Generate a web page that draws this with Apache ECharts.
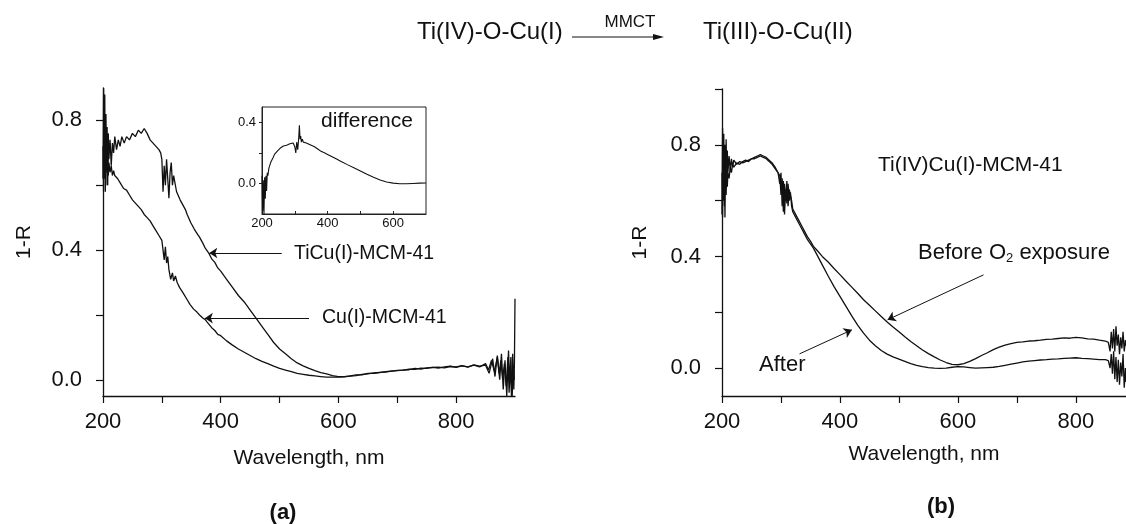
<!DOCTYPE html>
<html>
<head>
<meta charset="utf-8">
<script src="https://cdn.jsdelivr.net/npm/echarts@6/dist/echarts.min.js"></script>
<style>
  html, body { margin: 0; padding: 0; background: #fff; }
  #chart { width: 1126px; height: 524px; }
</style>
</head>
<body>
<div id="chart"></div>
<script>
// panel (a): TiCu(I)-MCM-41 and Cu(I)-MCM-41
const tiCuWl = [200,201,202,203,204,205,206,207,208,209,210,212,214,216,218,220,223,226,229,232,236,240,245,250,255,260,265,270,275,280,285,290,295,298,300,302,304,306,308,310,312,314,316,318,320,325,328,331,334,337,340,343,346,349,352,355,358,361,364,367,370,374,377,380,385,390,395,400,410,420,430,440,450,460,470,480,490,500,510,520,530,540,550,560,570,580,590,600,610,620,630,640,650,660,670,680,690,700,710,720,730,740,750,760,770,780,790,800,810,820,830,840,850,855,860,865,870,873,876,879,882,885,888,890,892,894,896,898,899,900]
const tiCuR = [0.62,0.90,0.70,0.88,0.58,0.82,0.66,0.78,0.60,0.76,0.68,0.74,0.66,0.73,0.70,0.75,0.71,0.74,0.72,0.75,0.73,0.75,0.74,0.76,0.75,0.77,0.76,0.775,0.76,0.74,0.73,0.72,0.71,0.70,0.68,0.58,0.66,0.60,0.68,0.62,0.56,0.64,0.67,0.60,0.63,0.58,0.585,0.555,0.56,0.535,0.525,0.51,0.505,0.485,0.475,0.465,0.46,0.448,0.44,0.43,0.42,0.405,0.40,0.39,0.372,0.362,0.345,0.335,0.31,0.285,0.26,0.24,0.215,0.19,0.165,0.14,0.115,0.095,0.08,0.065,0.052,0.043,0.035,0.028,0.022,0.018,0.013,0.01,0.01,0.012,0.015,0.015,0.02,0.02,0.022,0.025,0.027,0.028,0.03,0.031,0.035,0.033,0.037,0.038,0.036,0.04,0.042,0.038,0.043,0.04,0.045,0.04,0.05,0.03,0.06,0.025,0.07,0.02,0.06,0.0,0.05,-0.02,0.07,-0.04,0.04,-0.05,0.08,-0.03,0.05,0.25]

const cuWl = [200,201,202,203,204,205,206,207,208,209,210,212,214,216,218,220,225,230,235,240,245,250,255,260,265,270,275,280,285,290,295,300,302,304,306,308,310,312,315,318,320,323,326,330,333,336,339,342,345,348,351,354,357,360,364,367,370,374,377,380,385,390,395,400,410,420,430,440,450,460,470,480,490,500,510,520,530,540,550,560,570,580,590,600,610,620,630,640,650,660,670,680,690,700,710,720,730,740,750,760,770,780,790,800,810,820,830,840,850,856,862,866,870,874,877,880,883,886,889,891,893,895,897,899]
const cuR = [0.72,0.58,0.82,0.62,0.76,0.64,0.72,0.60,0.70,0.63,0.67,0.64,0.66,0.63,0.645,0.63,0.62,0.605,0.59,0.585,0.57,0.555,0.545,0.535,0.525,0.51,0.50,0.49,0.475,0.46,0.445,0.43,0.40,0.37,0.41,0.36,0.38,0.34,0.31,0.33,0.305,0.32,0.30,0.285,0.29,0.268,0.262,0.25,0.245,0.232,0.235,0.218,0.222,0.208,0.20,0.205,0.19,0.185,0.178,0.172,0.16,0.152,0.14,0.136,0.12,0.107,0.095,0.085,0.075,0.065,0.057,0.05,0.042,0.035,0.03,0.025,0.02,0.017,0.014,0.012,0.01,0.008,0.008,0.008,0.009,0.011,0.013,0.017,0.018,0.021,0.023,0.024,0.027,0.029,0.03,0.033,0.032,0.036,0.035,0.038,0.039,0.037,0.041,0.04,0.044,0.039,0.046,0.042,0.045,0.02,0.065,0.01,0.075,0.0,0.08,-0.03,0.06,-0.05,0.09,-0.01,0.07,-0.06,0.04,0.0]

// inset: difference spectrum
const diffWl = [200,202,204,206,208,210,212,214,216,218,221,224,227,230,234,238,242,246,250,255,260,265,270,275,280,285,290,295,300,303,306,309,312,314,316,318,320,323,326,330,335,340,345,350,360,370,380,390,400,420,440,460,480,500,520,540,560,580,600,620,640,660,680,700]
const diffR = [0.05,-0.18,0.02,-0.2,0.04,-0.1,0.05,-0.05,0.07,0.05,0.10,0.12,0.14,0.15,0.17,0.19,0.20,0.21,0.22,0.23,0.235,0.245,0.24,0.25,0.245,0.26,0.25,0.265,0.24,0.20,0.27,0.22,0.30,0.38,0.29,0.31,0.27,0.29,0.27,0.28,0.265,0.27,0.255,0.25,0.24,0.225,0.21,0.2,0.19,0.168,0.145,0.123,0.102,0.081,0.06,0.04,0.022,0.009,0.002,-0.002,-0.002,0.0,0.002,0.003]

// panel (b): Ti(IV)Cu(I)-MCM-41 before / after O2 exposure
const wlB = [200,201,202,203,204,205,206,207,208,209,210,212,214,216,218,220,225,230,235,240,245,250,255,260,265,270,275,280,285,290,295,298,300,302,304,306,308,310,312,314,316,318,320,325,330,335,340,345,350,355,360,370,380,390,400,410,420,430,440,450,460,470,480,490,500,510,520,530,540,550,560,570,580,590,600,610,620,630,640,650,660,670,680,690,700,710,720,730,740,750,760,770,780,790,800,810,820,830,840,850,855,858,860,862,864,866,868,870,872,874,876,878,880,882,884,885]
const beforeR = [0.55,0.86,0.62,0.84,0.58,0.80,0.64,0.82,0.68,0.78,0.70,0.76,0.71,0.75,0.72,0.745,0.73,0.74,0.735,0.74,0.745,0.75,0.755,0.76,0.765,0.76,0.755,0.745,0.735,0.72,0.70,0.69,0.62,0.68,0.56,0.66,0.60,0.67,0.58,0.64,0.62,0.60,0.57,0.55,0.53,0.51,0.49,0.47,0.455,0.436,0.425,0.40,0.38,0.357,0.335,0.312,0.29,0.268,0.245,0.225,0.205,0.185,0.165,0.147,0.13,0.112,0.095,0.08,0.065,0.052,0.04,0.029,0.02,0.013,0.012,0.016,0.024,0.034,0.045,0.055,0.066,0.075,0.082,0.088,0.092,0.094,0.097,0.098,0.1,0.103,0.104,0.106,0.108,0.107,0.11,0.108,0.105,0.104,0.1,0.097,0.092,0.06,0.13,0.07,0.14,0.06,0.15,0.08,0.12,0.05,0.11,0.07,0.13,0.06,0.10,0.08]
const afterR = [0.70,0.54,0.80,0.60,0.76,0.54,0.74,0.62,0.72,0.65,0.70,0.68,0.72,0.70,0.73,0.72,0.735,0.73,0.74,0.745,0.74,0.75,0.75,0.755,0.76,0.755,0.75,0.74,0.73,0.715,0.70,0.66,0.70,0.58,0.67,0.55,0.64,0.59,0.66,0.60,0.63,0.58,0.56,0.54,0.52,0.50,0.48,0.46,0.445,0.43,0.41,0.37,0.33,0.292,0.257,0.222,0.187,0.154,0.125,0.1,0.08,0.063,0.05,0.04,0.032,0.024,0.016,0.01,0.005,0.002,0.0,-0.001,0.0,0.003,0.005,0.004,0.002,0.0,0.001,0.002,0.003,0.006,0.01,0.014,0.018,0.022,0.025,0.027,0.029,0.03,0.032,0.033,0.035,0.036,0.037,0.035,0.034,0.032,0.03,0.03,0.027,0.0,0.05,-0.02,0.06,-0.04,0.04,-0.05,0.03,-0.06,0.02,-0.03,0.05,-0.07,0.0,-0.05]

const FONT = 'Liberation Sans, Arial, Helvetica, sans-serif'
const INK = '#111'

function zip(xs, ys) {
  return xs.map((x, i) => [x, ys[i]])
}

function xAxisOf(grid, min, max, ticks, labels, opts) {
  return Object.assign({
    type: 'value',
    gridIndex: grid,
    min: min,
    max: max,
    axisLine: { show: true, onZero: false, lineStyle: { color: INK, width: 1.3 } },
    axisTick: { show: true, customValues: ticks, length: 7, lineStyle: { color: INK, width: 1.2 } },
    axisLabel: { customValues: labels, fontSize: 22, color: INK, margin: 15, fontFamily: FONT },
    splitLine: { show: false }
  }, opts || {})
}

function yAxisOf(grid, min, max, ticks, labels, opts) {
  return Object.assign({
    type: 'value',
    gridIndex: grid,
    min: min,
    max: max,
    axisLine: { show: true, onZero: false, lineStyle: { color: INK, width: 1.3 } },
    axisTick: { show: true, customValues: ticks, length: 7, lineStyle: { color: INK, width: 1.2 } },
    axisLabel: { customValues: labels, fontSize: 22, color: INK, margin: 21, fontFamily: FONT,
      formatter: v => v.toFixed(1) },
    splitLine: { show: false }
  }, opts || {})
}

function text(x, y, str, size, extra) {
  return {
    type: 'text',
    x: x,
    y: y,
    style: Object.assign({
      text: str,
      fontSize: size,
      fontFamily: FONT,
      fill: INK,
      align: 'left',
      verticalAlign: 'middle'
    }, extra || {})
  }
}

const arrowLine = {
  symbol: ['none', 'arrow'],
  symbolSize: 8,
  silent: true,
  animation: false,
  label: { show: false },
  lineStyle: { color: INK, width: 1, type: 'solid' },
  emphasis: { disabled: true }
}

const chart = echarts.init(document.getElementById('chart'))

chart.setOption({
  animation: false,
  backgroundColor: '#fff',
  textStyle: { fontFamily: FONT, color: INK },
  grid: [
    { left: 103, top: 88, width: 412, height: 308 },
    { left: 722, top: 89, width: 404, height: 307 },
    { left: 262, top: 107, width: 164, height: 107, show: true, borderColor: '#222', borderWidth: 1, backgroundColor: '#fff' }
  ],
  xAxis: [
    xAxisOf(0, 200, 900, [200, 300, 400, 500, 600, 700, 800], [200, 400, 600, 800], {
      name: 'Wavelength, nm', nameLocation: 'middle', nameGap: 52,
      nameTextStyle: { fontSize: 21, color: INK, fontFamily: FONT }
    }),
    xAxisOf(1, 200, 885, [200, 300, 400, 500, 600, 700, 800], [200, 400, 600, 800], {
      name: 'Wavelength, nm', nameLocation: 'middle', nameGap: 48,
      nameTextStyle: { fontSize: 21, color: INK, fontFamily: FONT }
    }),
    xAxisOf(2, 200, 700, [200, 300, 400, 500, 600, 700], [200, 400, 600], {
      axisLine: { show: true, onZero: false, lineStyle: { color: '#222', width: 1 } },
      axisTick: { show: true, inside: true, customValues: [300, 400, 500, 600], length: 3, lineStyle: { color: '#222' } },
      axisLabel: { customValues: [200, 400, 600], fontSize: 13, color: INK, margin: 3, fontFamily: FONT }
    })
  ],
  yAxis: [
    yAxisOf(0, -0.05, 0.9, [0, 0.2, 0.4, 0.6, 0.8], [0, 0.4, 0.8], {
      name: '1-R', nameLocation: 'middle', nameGap: 68,
      nameTextStyle: { fontSize: 21, color: INK, fontFamily: FONT }
    }),
    yAxisOf(1, -0.1, 1.0, [0, 0.2, 0.4, 0.6, 0.8, 1.0], [0, 0.4, 0.8], {
      name: '1-R', nameLocation: 'middle', nameGap: 71,
      nameTextStyle: { fontSize: 21, color: INK, fontFamily: FONT }
    }),
    yAxisOf(2, -0.2, 0.5, [0, 0.2, 0.4], [0, 0.4], {
      axisLine: { show: true, onZero: false, lineStyle: { color: '#222', width: 1 } },
      axisTick: { show: true, customValues: [0, 0.2, 0.4], length: 3, lineStyle: { color: '#222' } },
      axisLabel: { customValues: [0, 0.4], fontSize: 13, color: INK, margin: 6, fontFamily: FONT,
        formatter: v => v.toFixed(1) }
    })
  ],
  series: [
    {
      name: 'TiCu(I)-MCM-41', type: 'line', xAxisIndex: 0, yAxisIndex: 0,
      data: zip(tiCuWl, tiCuR), showSymbol: false, silent: true,
      lineStyle: { color: INK, width: 1.3 },
      markLine: Object.assign({
        data: [
          [{ coord: [503.7, 0.391] }, { coord: [380.6, 0.391] }],
          [{ coord: [550, 0.19] }, { coord: [373, 0.19] }]
        ]
      }, arrowLine)
    },
    {
      name: 'Cu(I)-MCM-41', type: 'line', xAxisIndex: 0, yAxisIndex: 0,
      data: zip(cuWl, cuR), showSymbol: false, silent: true,
      lineStyle: { color: INK, width: 1.3 }
    },
    {
      name: 'difference', type: 'line', xAxisIndex: 2, yAxisIndex: 2,
      data: zip(diffWl, diffR), showSymbol: false, silent: true,
      lineStyle: { color: INK, width: 1.1 }
    },
    {
      name: 'Before O2 exposure', type: 'line', xAxisIndex: 1, yAxisIndex: 1,
      data: zip(wlB, beforeR), showSymbol: false, silent: true,
      lineStyle: { color: INK, width: 1.3 },
      markLine: Object.assign({
        data: [
          [{ coord: [643.4, 0.334] }, { coord: [480.7, 0.173] }],
          [{ coord: [331.5, 0.051] }, { coord: [420.3, 0.137] }]
        ]
      }, arrowLine)
    },
    {
      name: 'After', type: 'line', xAxisIndex: 1, yAxisIndex: 1,
      data: zip(wlB, afterR), showSymbol: false, silent: true,
      lineStyle: { color: INK, width: 1.3 }
    }
  ],
  graphic: [
    // reaction scheme at the top
    text(417, 32, 'Ti(IV)-O-Cu(I)', 24),
    text(630, 22, 'MMCT', 17, { align: 'center' }),
    { type: 'line', shape: { x1: 572, y1: 37, x2: 661, y2: 37 }, style: { stroke: INK, lineWidth: 1.2 } },
    { type: 'polygon', shape: { points: [[664, 37], [653, 34], [653, 40]] }, style: { fill: INK } },
    text(703, 32, 'Ti(III)-O-Cu(II)', 24),
    // panel (a) labels
    text(367, 121, 'difference', 21, { align: 'center' }),
    text(294, 254, 'TiCu(I)-MCM-41', 19.5),
    text(322, 318, 'Cu(I)-MCM-41', 19.5),
    text(283, 513, '(a)', 22, { align: 'center', fontWeight: 'bold' }),
    // panel (b) labels
    text(878, 165, 'Ti(IV)Cu(I)-MCM-41', 21),
    {
      type: 'text', x: 918, y: 253,
      style: {
        text: '{a|Before O}{s|2}{a| exposure}',
        fontFamily: FONT, fill: INK, align: 'left', verticalAlign: 'middle',
        rich: {
          a: { fontSize: 22, fontFamily: FONT, fill: INK, lineHeight: 24 },
          s: { fontSize: 13, fontFamily: FONT, fill: INK, lineHeight: 8, verticalAlign: 'bottom' }
        }
      }
    },
    text(759, 365, 'After', 22),
    text(941, 507, '(b)', 22, { align: 'center', fontWeight: 'bold' })
  ]
})
</script>
</body>
</html>
